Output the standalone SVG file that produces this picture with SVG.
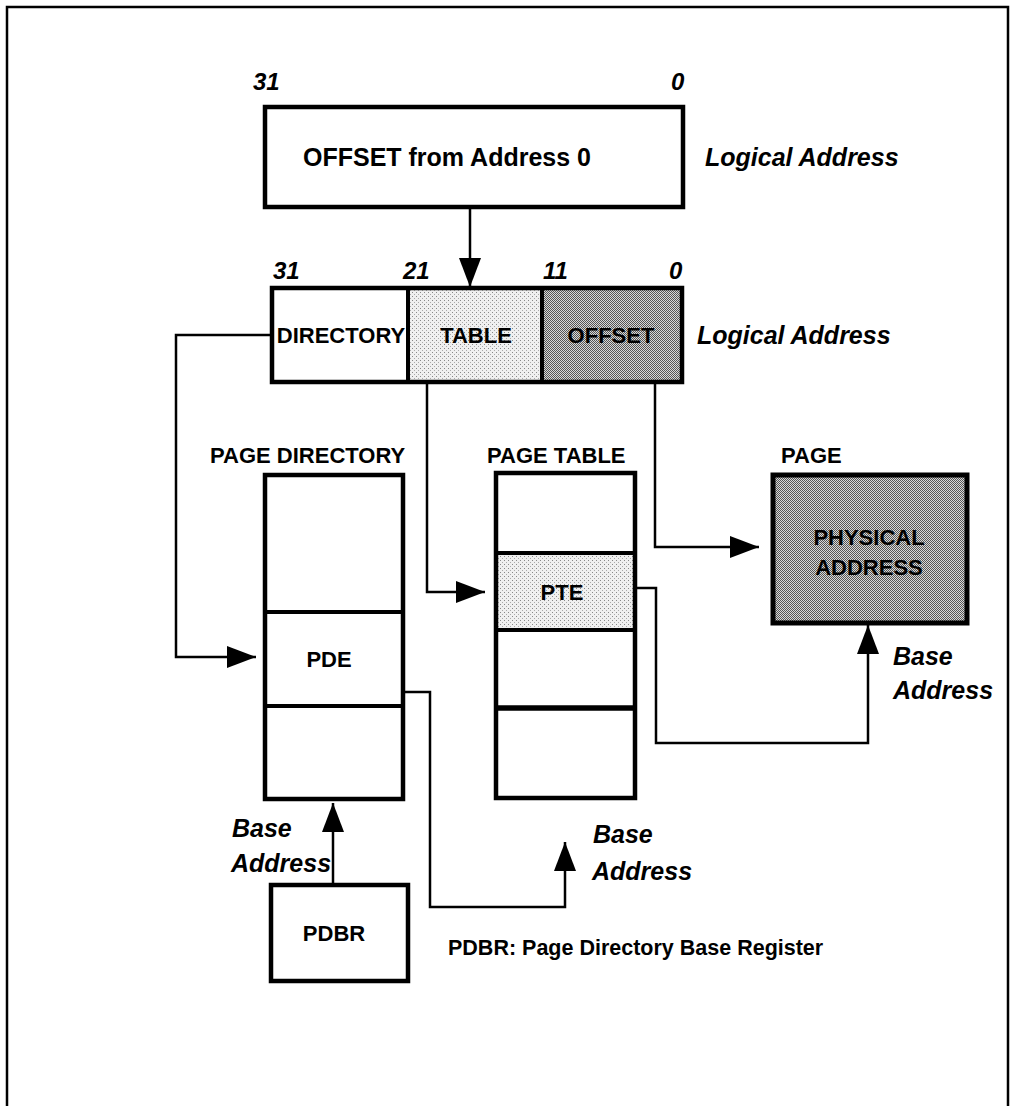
<svg xmlns="http://www.w3.org/2000/svg" width="1015" height="1106" viewBox="0 0 1015 1106">
<defs>
<style>
.box{fill:#fff;stroke:#000;stroke-width:4.5}
.div{stroke:#000;stroke-width:4;fill:none}
.con{stroke:#000;stroke-width:2.5;fill:none}
.b{font-family:"Liberation Sans",Arial,sans-serif;font-weight:bold;font-size:22px;fill:#000}
.bc{font-family:"Liberation Sans",Arial,sans-serif;font-weight:bold;font-size:22px;fill:#000;text-anchor:middle}
.it{font-family:"Liberation Sans",Arial,sans-serif;font-weight:bold;font-style:italic;font-size:25px;fill:#000}
.num{font-family:"Liberation Sans",Arial,sans-serif;font-weight:bold;font-style:italic;font-size:24px;fill:#000}
.big{font-size:25px}
.foot{font-size:21.5px}
</style>
<pattern id="light" width="4" height="4" patternUnits="userSpaceOnUse">
<rect width="4" height="4" fill="#f0f0f0"/>
<rect x="0" y="0" width="1" height="1" fill="#888"/>
<rect x="2" y="2" width="1" height="1" fill="#aaa"/>
</pattern>
<pattern id="dark" width="2" height="2" patternUnits="userSpaceOnUse">
<rect width="2" height="2" fill="#d8d8d8"/>
<rect x="0" y="0" width="1" height="1" fill="#555"/>
<rect x="1" y="1" width="1" height="1" fill="#555"/>
</pattern>
<marker id="ah" markerUnits="userSpaceOnUse" markerWidth="30" markerHeight="24" refX="29" refY="11" orient="auto">
<path d="M0,0 L29,11 L0,22 Z" fill="#000"/>
</marker>
</defs>
<rect width="1015" height="1106" fill="#fff"/>
<path d="M7,1106 V7 H1008 V1106" fill="none" stroke="#000" stroke-width="2.5"/>

<g id="logical-address-top">
<text class="num" x="253" y="90">31</text>
<text class="num" x="671" y="90">0</text>
<rect class="box" x="265" y="107" width="418" height="100"/>
<text class="bc big" x="447" y="166">OFFSET from Address 0</text>
<text class="it" x="705" y="166">Logical Address</text>
</g>

<g id="logical-address-split">
<text class="num" x="273" y="279">31</text>
<text class="num" x="403" y="279">21</text>
<text class="num" x="543" y="279">11</text>
<text class="num" x="669" y="279">0</text>
<rect x="409" y="288" width="133" height="94" fill="url(#light)"/>
<rect x="542" y="288" width="140" height="94" fill="url(#dark)"/>
<rect x="272" y="288" width="410" height="94" fill="none" stroke="#000" stroke-width="4.5"/>
<line class="div" x1="408" y1="288" x2="408" y2="382"/>
<line class="div" x1="542" y1="288" x2="542" y2="382"/>
<text class="bc" x="341" y="343">DIRECTORY</text>
<text class="bc" x="476" y="343">TABLE</text>
<text class="bc" x="611" y="343">OFFSET</text>
<text class="it" x="697" y="344">Logical Address</text>
</g>

<g id="page-directory">
<text class="b" x="210" y="463">PAGE DIRECTORY</text>
<rect class="box" x="265" y="475" width="138" height="324"/>
<line class="div" x1="265" y1="612" x2="403" y2="612"/>
<line class="div" x1="265" y1="706" x2="403" y2="706"/>
<text class="bc" x="329" y="667">PDE</text>
</g>

<g id="page-table">
<text class="b" x="487" y="463">PAGE TABLE</text>
<rect x="496" y="553" width="139" height="77" fill="url(#light)"/>
<rect x="496" y="473" width="139" height="325" fill="none" stroke="#000" stroke-width="4.5"/>
<line class="div" x1="496" y1="553" x2="635" y2="553"/>
<line class="div" x1="496" y1="630" x2="635" y2="630"/>
<line x1="496" y1="708" x2="635" y2="708" stroke="#000" stroke-width="5.5"/>
<text class="bc" x="562" y="600">PTE</text>
</g>

<g id="page">
<text class="b" x="781" y="463">PAGE</text>
<rect x="773" y="475" width="194" height="148" fill="url(#dark)" stroke="#000" stroke-width="5"/>
<text class="bc" x="869" y="545">PHYSICAL</text>
<text class="bc" x="869" y="575">ADDRESS</text>
<text class="it" x="893" y="665">Base</text>
<text class="it" x="893" y="699">Address</text>
</g>

<g id="pdbr">
<rect class="box" x="271" y="885" width="137" height="96"/>
<text class="bc" x="334" y="941">PDBR</text>
<text class="it" x="232" y="837">Base</text>
<text class="it" x="231" y="872">Address</text>
</g>

<g id="labels">
<text class="it" x="593" y="843">Base</text>
<text class="it" x="592" y="880">Address</text>
<text class="b foot" x="448" y="955">PDBR: Page Directory Base Register</text>
</g>

<g id="connectors">
<path class="con" d="M470,207 V287" marker-end="url(#ah)"/>
<path class="con" d="M272,335 H176 V657 H256" marker-end="url(#ah)"/>
<path class="con" d="M427,382 V592 H485" marker-end="url(#ah)"/>
<path class="con" d="M655,382 V547 H759" marker-end="url(#ah)"/>
<path class="con" d="M635,588 H656 V743 H868 V625" marker-end="url(#ah)"/>
<path class="con" d="M403,692 H430 V907 H565 V842" marker-end="url(#ah)"/>
<path class="con" d="M333,885 V803" marker-end="url(#ah)"/>
</g>
</svg>
